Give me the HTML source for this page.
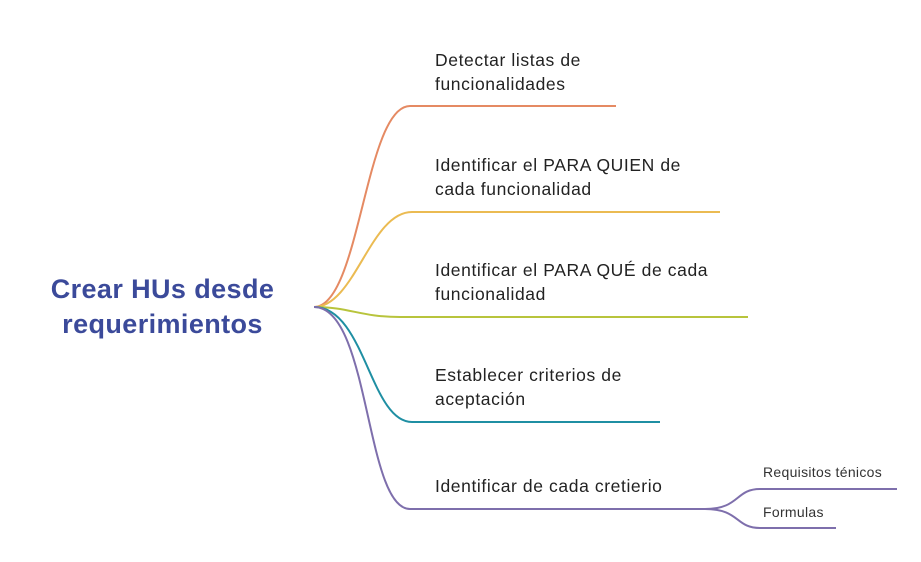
<!DOCTYPE html>
<html><head><meta charset="utf-8"><style>
body{margin:0;background:#fff;width:921px;height:562px;overflow:hidden;position:relative;font-family:"Liberation Sans",sans-serif}
.t{position:absolute;left:435px;font-size:17.5px;line-height:24px;color:#222;letter-spacing:0.6px}
.s{position:absolute;font-size:14px;color:#333;letter-spacing:0.3px}
</style></head><body>
<svg width="921" height="562" style="position:absolute;left:0;top:0" fill="none" stroke-width="2">
<path d="M314 307 C360 307 365 106 410 106 L616 106" stroke="#e58a63"/>
<path d="M314 307 C355 307 370 212 412 212 L720 212" stroke="#ebbb52"/>
<path d="M314 307 C350 307 360 317 400 317 L748 317" stroke="#b8c43c"/>
<path d="M314 307 C365 307 370 422 412 422 L660 422" stroke="#1f8fa3"/>
<path d="M314 307 C370 307 365 509 410 509 L710 509" stroke="#7e6fac"/>
<path d="M705 509 C740 509 735 489 760 489 L897 489" stroke="#7e6fac"/>
<path d="M705 509 C740 509 735 528 760 528 L836 528" stroke="#7e6fac"/>
</svg>
<div style="position:absolute;left:20px;top:272px;width:285px;text-align:center;font-size:27px;font-weight:bold;color:#3b4a9a;line-height:35px;letter-spacing:0.4px">Crear HUs desde<br>requerimientos</div>
<div class="t" style="top:48px">Detectar listas de<br>funcionalidades</div>
<div class="t" style="top:153px">Identificar el PARA QUIEN de<br>cada funcionalidad</div>
<div class="t" style="top:258px">Identificar el PARA QUÉ de cada<br>funcionalidad</div>
<div class="t" style="top:363px">Establecer criterios de<br>aceptación</div>
<div class="t" style="top:474px">Identificar de cada cretierio</div>
<div class="s" style="left:763px;top:464px">Requisitos ténicos</div>
<div class="s" style="left:763px;top:504px">Formulas</div>
</body></html>
